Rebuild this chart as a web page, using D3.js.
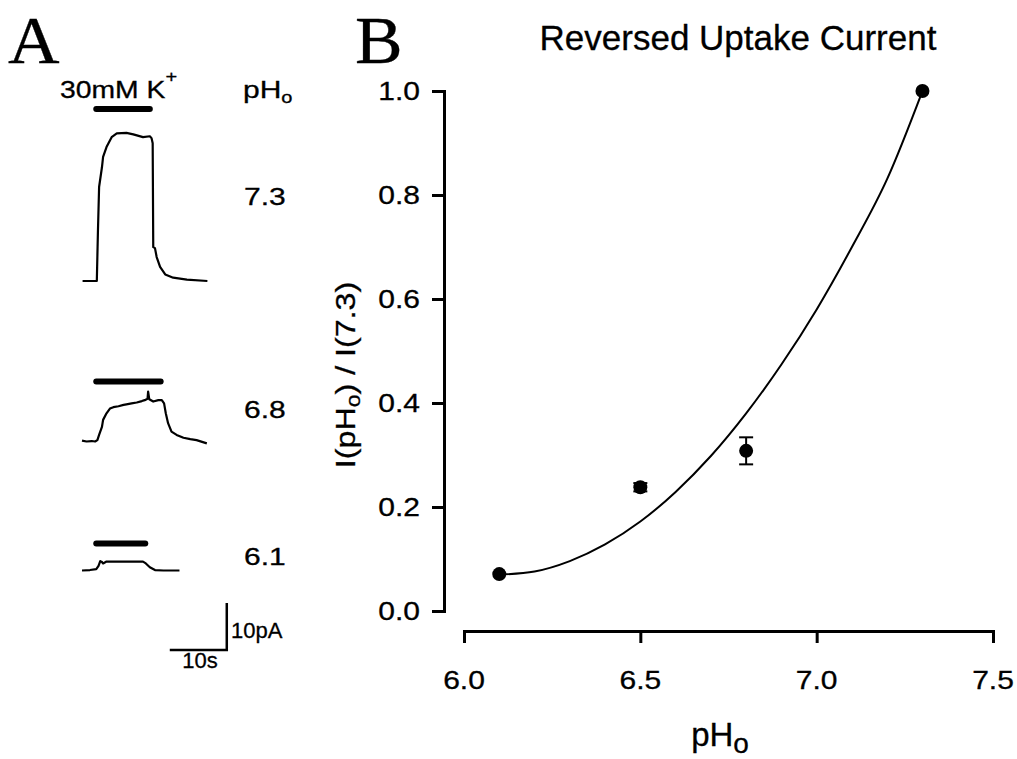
<!DOCTYPE html>
<html>
<head>
<meta charset="utf-8">
<script src="https://cdn.jsdelivr.net/npm/d3@7"></script>
<style>
  body { margin: 0; background: #fff; }
  text { font-family: "Liberation Sans", Arial, sans-serif; fill: #000; }
</style>
</head>
<body>
<svg id="fig"></svg>
<script>
// Panel A - current traces, [time (s), current (pA)]
var trace73 = [
  [0.1, 0], [2.6, 0], [2.8, 10.8], [3.0, 20.0], [3.5, 24.2], [3.7, 26.4], [4.3, 28.5],
  [5.2, 30.6], [6.1, 31.4], [7.8, 31.5], [9.0, 31.2], [10.7, 30.6], [11.9, 30.8],
  [12.2, 30.4], [12.4, 29.3], [12.5, 7.2], [12.8, 7.0], [13.1, 5.1], [13.7, 3.0],
  [14.6, 1.4], [16.0, 0.7], [18.4, 0.3], [22.0, 0]
];
var trace68 = [
  [0, 0.2], [0.8, 0], [1.7, 0.1], [2.3, 0], [2.7, 0.3], [3.0, 1.4], [3.5, 3.1], [3.7, 4.6],
  [4.3, 6.0], [4.9, 7.0], [5.5, 7.3], [6.4, 7.5], [7.3, 7.8], [7.8, 7.9], [8.7, 8.1],
  [9.6, 8.3], [10.5, 8.6], [11.0, 8.8], [11.5, 9.1], [11.6, 10.6], [11.8, 9.0], [12.5, 8.5],
  [13.4, 8.8], [14.0, 8.8], [14.4, 8.1], [14.7, 6.0], [15.1, 3.9], [15.7, 2.1], [16.6, 1.4],
  [17.8, 0.8], [19.0, 0.5], [20.1, 0.3], [21.9, -0.4]
];
var trace61 = [
  [0, 0], [1.4, 0.1], [2.5, 0.3], [2.9, 1.0], [3.2, 2.0], [3.5, 1.8], [3.7, 1.5], [4.3, 1.9],
  [6.1, 1.9], [7.8, 1.9], [9.6, 1.9], [10.7, 1.9], [11.2, 1.5], [11.9, 0.7], [12.8, 0.1],
  [14.3, 0], [17.1, 0]
];
var traceLabels = ['7.3', '6.8', '6.1'];
// 30mM K+ application, [on, off] in s
var kOn = [2.5, 2.5, 2.5];
var kOff = [11.9, 13.8, 11.1];

// Panel B - normalised reversed uptake current
var phValues = [6.1, 6.5, 6.8, 7.3];
var ratioValues = [0.071, 0.238, 0.308, 1.0];
var ratioErrors = [0, 0.008, 0.026, 0];
var fitPh = [6.1, 6.2, 6.3, 6.4, 6.5, 6.6, 6.7, 6.8, 6.9, 7.0, 7.1, 7.2, 7.3];
var fitRatio = [0.070, 0.076, 0.096, 0.128, 0.172, 0.229, 0.298, 0.380, 0.474, 0.580, 0.700, 0.831, 1.0];
var xTicks = [6.0, 6.5, 7.0, 7.5];
var yTicks = [0, 0.2, 0.4, 0.6, 0.8, 1.0];

var svg = d3.select('#fig').attr('width', 1017).attr('height', 759);

// text helper, sx stretches glyphs sideways
function label(parent, x, y, size, opts) {
  opts = opts || {};
  return parent.append('text')
      .attr('transform', 'translate(' + x + ',' + y + ') rotate(' + (opts.rot || 0) + ') scale(' + (opts.sx || 1) + ',1)')
      .attr('font-size', size)
      .attr('text-anchor', opts.anchor || 'start')
      .attr('stroke', '#000')
      .attr('stroke-width', 0.3);
}

// ---------- Panel A ----------
var gA = svg.append('g');
label(gA, 8, 63, 68, {sx: 1.05}).style('font-family', '"Liberation Serif", "Times New Roman", serif').text('A');

var t = d3.scaleLinear().domain([0, 10]).range([82, 139]);
var baselines = [281, 441.5, 570.5];
var barOffsets = [172, 60, 27];
var traces = [trace73, trace68, trace61];

traces.forEach(function (tr, i) {
  var yA = d3.scaleLinear().domain([0, 10]).range([baselines[i], baselines[i] - 47]);
  var line = d3.line()
      .x(function (d) { return t(d[0]); })
      .y(function (d) { return yA(d[1]); });

  gA.append('path')
      .datum(tr)
      .attr('d', line)
      .attr('fill', 'none')
      .attr('stroke', '#000')
      .attr('stroke-width', 2.2)
      .attr('stroke-linejoin', 'round');

  gA.append('line')
      .attr('x1', t(kOn[i])).attr('x2', t(kOff[i]))
      .attr('y1', baselines[i] - barOffsets[i]).attr('y2', baselines[i] - barOffsets[i])
      .attr('stroke', '#000')
      .attr('stroke-width', 6)
      .attr('stroke-linecap', 'round');
});

var numY = [205, 418, 565];
traceLabels.forEach(function (s, i) {
  label(gA, 244, numY[i], 24, {sx: 1.25}).text(s);
});

var kl = label(gA, 60, 98, 24, {sx: 1.18});
kl.append('tspan').text('30mM K');
kl.append('tspan').attr('font-size', 17).attr('dy', -16).text('+');

var ph = label(gA, 243, 98, 24, {sx: 1.25});
ph.append('tspan').text('pH');
ph.append('tspan').attr('font-size', 16).attr('dy', 5).text('o');

// scale bar: 10 s, 10 pA
var ySb = d3.scaleLinear().domain([0, 10]).range([650, 603]);
gA.append('path')
    .attr('d', 'M' + t(15.4) + ',' + ySb(0) + 'H' + t(25.4) + 'V' + ySb(10))
    .attr('fill', 'none')
    .attr('stroke', '#000')
    .attr('stroke-width', 2.5);
label(gA, 231, 638, 22).text('10pA');
label(gA, 200, 668, 22, {anchor: 'middle'}).text('10s');

// ---------- Panel B ----------
var gB = svg.append('g');
label(gB, 355, 63, 68, {sx: 1.05}).style('font-family', '"Liberation Serif", "Times New Roman", serif').text('B');
label(gB, 738, 50, 35, {anchor: 'middle'}).text('Reversed Uptake Current');

var x = d3.scaleLinear().domain([6.0, 7.5]).range([464, 993]);
var y = d3.scaleLinear().domain([0, 1]).range([611, 91]);

var xAxis = gB.append('g')
    .attr('transform', 'translate(0,631)')
    .call(d3.axisBottom(x).tickValues(xTicks).tickSize(12).tickSizeOuter(12).tickFormat(''));
var yAxis = gB.append('g')
    .attr('transform', 'translate(444,0)')
    .call(d3.axisLeft(y).tickValues(yTicks).tickSize(12).tickSizeOuter(12).tickFormat(''));
[xAxis, yAxis].forEach(function (a) {
  a.selectAll('path, line').attr('stroke', '#000').attr('stroke-width', 3);
});

xTicks.forEach(function (v) {
  label(gB, x(v), 689, 25, {anchor: 'middle', sx: 1.2}).text(d3.format('.1f')(v));
});
yTicks.forEach(function (v) {
  label(gB, 420, y(v) + 9, 25, {anchor: 'end', sx: 1.2}).text(d3.format('.1f')(v));
});

var yl = label(gB, 355, 375, 28, {anchor: 'middle', rot: -90, sx: 1.15});
yl.append('tspan').text('I(pH');
yl.append('tspan').attr('font-size', 20).attr('dy', 5).text('o');
yl.append('tspan').attr('dy', -5).text(') / I(7.3)');

var xl = label(gB, 720, 746, 33, {anchor: 'middle'});
xl.append('tspan').text('pH');
xl.append('tspan').attr('font-size', 28).attr('dy', 7).text('o');

// fitted curve
gB.append('path')
    .datum(d3.zip(fitPh, fitRatio))
    .attr('d', d3.line()
        .x(function (d) { return x(d[0]); })
        .y(function (d) { return y(d[1]); })
        .curve(d3.curveMonotoneX))
    .attr('fill', 'none')
    .attr('stroke', '#000')
    .attr('stroke-width', 2);

// error bars + points
var pts = d3.zip(phValues, ratioValues, ratioErrors);
var eb = gB.selectAll('.err').data(pts.filter(function (d) { return d[2] > 0; }))
    .enter().append('g').attr('class', 'err')
    .attr('stroke', '#000').attr('stroke-width', 2);
eb.append('line')
    .attr('x1', function (d) { return x(d[0]); }).attr('x2', function (d) { return x(d[0]); })
    .attr('y1', function (d) { return y(d[1] - d[2]); }).attr('y2', function (d) { return y(d[1] + d[2]); });
eb.append('line')
    .attr('x1', function (d) { return x(d[0]) - 7; }).attr('x2', function (d) { return x(d[0]) + 7; })
    .attr('y1', function (d) { return y(d[1] - d[2]); }).attr('y2', function (d) { return y(d[1] - d[2]); });
eb.append('line')
    .attr('x1', function (d) { return x(d[0]) - 7; }).attr('x2', function (d) { return x(d[0]) + 7; })
    .attr('y1', function (d) { return y(d[1] + d[2]); }).attr('y2', function (d) { return y(d[1] + d[2]); });

gB.selectAll('.dot').data(pts)
    .enter().append('circle').attr('class', 'dot')
    .attr('cx', function (d) { return x(d[0]); })
    .attr('cy', function (d) { return y(d[1]); })
    .attr('r', 7)
    .attr('fill', '#000');
</script>
</body>
</html>
